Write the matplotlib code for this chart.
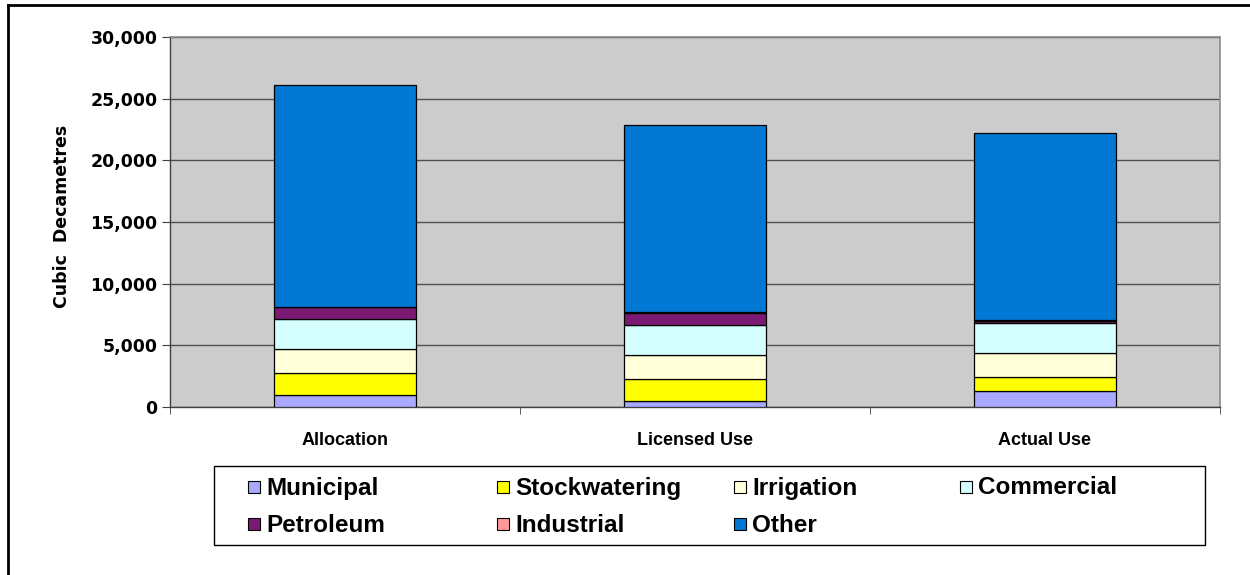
import matplotlib
matplotlib.use('Agg')
import matplotlib.pyplot as plt
from matplotlib.patches import Rectangle
from matplotlib.lines import Line2D
import numpy as np

plt.rcParams['font.family'] = ['Liberation Sans', 'DejaVu Sans']
plt.rcParams['font.weight'] = 'bold'

categories = ['Allocation', 'Licensed Use', 'Actual Use']
series = ['Municipal', 'Stockwatering', 'Irrigation', 'Commercial',
          'Petroleum', 'Industrial', 'Other']
municipal = [950, 490, 1300]
stockwatering = [1780, 1780, 1130]
irrigation = [1950, 1920, 1950]
commercial = [2430, 2435, 2410]
petroleum = [975, 975, 185]
industrial = [0, 130, 105]
other = [18020, 15170, 15140]
values = [municipal, stockwatering, irrigation, commercial,
          petroleum, industrial, other]
colors = ['#A9A9FF', '#FFFF00', '#FFFFD9', '#D5FFFF',
          '#7B1A73', '#FF9999', '#0078D4']
yticks = [0, 5000, 10000, 15000, 20000, 25000, 30000]

fig = plt.figure(figsize=(12.5, 5.75), dpi=100)
W, H = 1250.0, 575.0
ax = fig.add_axes([170 / W, 1 - 407 / H, 1050 / W, 370 / H])
ax.set_facecolor('#CCCCCC')

x = np.arange(len(categories))
bottom = np.zeros(len(categories))
for vals, c in zip(values, colors):
    ax.bar(x, vals, 0.407, bottom=bottom, color=c, edgecolor='black',
           linewidth=0.9, zorder=3)
    bottom += np.array(vals)

ax.set_xlim(-0.5, 2.5)
ax.set_ylim(0, 30000)
ax.set_yticks(yticks)
ax.set_yticklabels(['{:,}'.format(v) for v in yticks], fontsize=12.5,
                   fontweight='bold', family='DejaVu Sans')
ax.set_xticks(x)
ax.set_xticklabels(categories, fontsize=13, fontweight='bold')
ax.tick_params(axis='x', length=0, pad=18)
ax.set_xticks([-0.5, 0.5, 1.5, 2.5], minor=True)
ax.tick_params(axis='x', which='minor', length=5, color='#404040', direction='out')
ax.tick_params(axis='y', length=6, color='#404040', pad=3)
ax.yaxis.grid(True, color='#505050', linewidth=1.0, zorder=1)
ax.set_axisbelow(True)
for s in ['left', 'bottom']:
    ax.spines[s].set_color('#404040')
    ax.spines[s].set_linewidth(1.0)
for s in ['top', 'right']:
    ax.spines[s].set_color('#8C8C8C')
    ax.spines[s].set_linewidth(1.2)

fig.text(62 / W, 1 - 216 / H, 'Cubic  Decametres', rotation=90,
         ha='center', va='center', fontsize=12.5, fontweight='bold',
         family='DejaVu Sans')

# legend box, laid out in rows like the spreadsheet one
fig.add_artist(Rectangle((214 / W, 1 - 545 / H), 991 / W, 79 / H,
                         transform=fig.transFigure, facecolor='white',
                         edgecolor='black', linewidth=1.0))
col_x = [248, 497, 734, 960, 248, 497, 734]
row_y = [487, 487, 487, 487, 524, 524, 524]
for name, c, px, py in zip(series, colors, col_x, row_y):
    fig.add_artist(Rectangle((px / W, 1 - (py + 6) / H), 12 / W, 12 / H,
                             transform=fig.transFigure, facecolor=c,
                             edgecolor='black', linewidth=0.8))
    fig.text((px + 18) / W, 1 - (py + 1) / H, name, ha='left', va='center',
             fontsize=17.5, fontweight='bold')

# outer frame
fig.add_artist(Line2D([8 / W, 8 / W], [0, 1 - 5 / H], color='black',
                      linewidth=2, transform=fig.transFigure))
fig.add_artist(Line2D([8 / W, 1], [1 - 5 / H, 1 - 5 / H], color='black',
                      linewidth=2, transform=fig.transFigure))

fig.savefig('out.png', dpi=100)
